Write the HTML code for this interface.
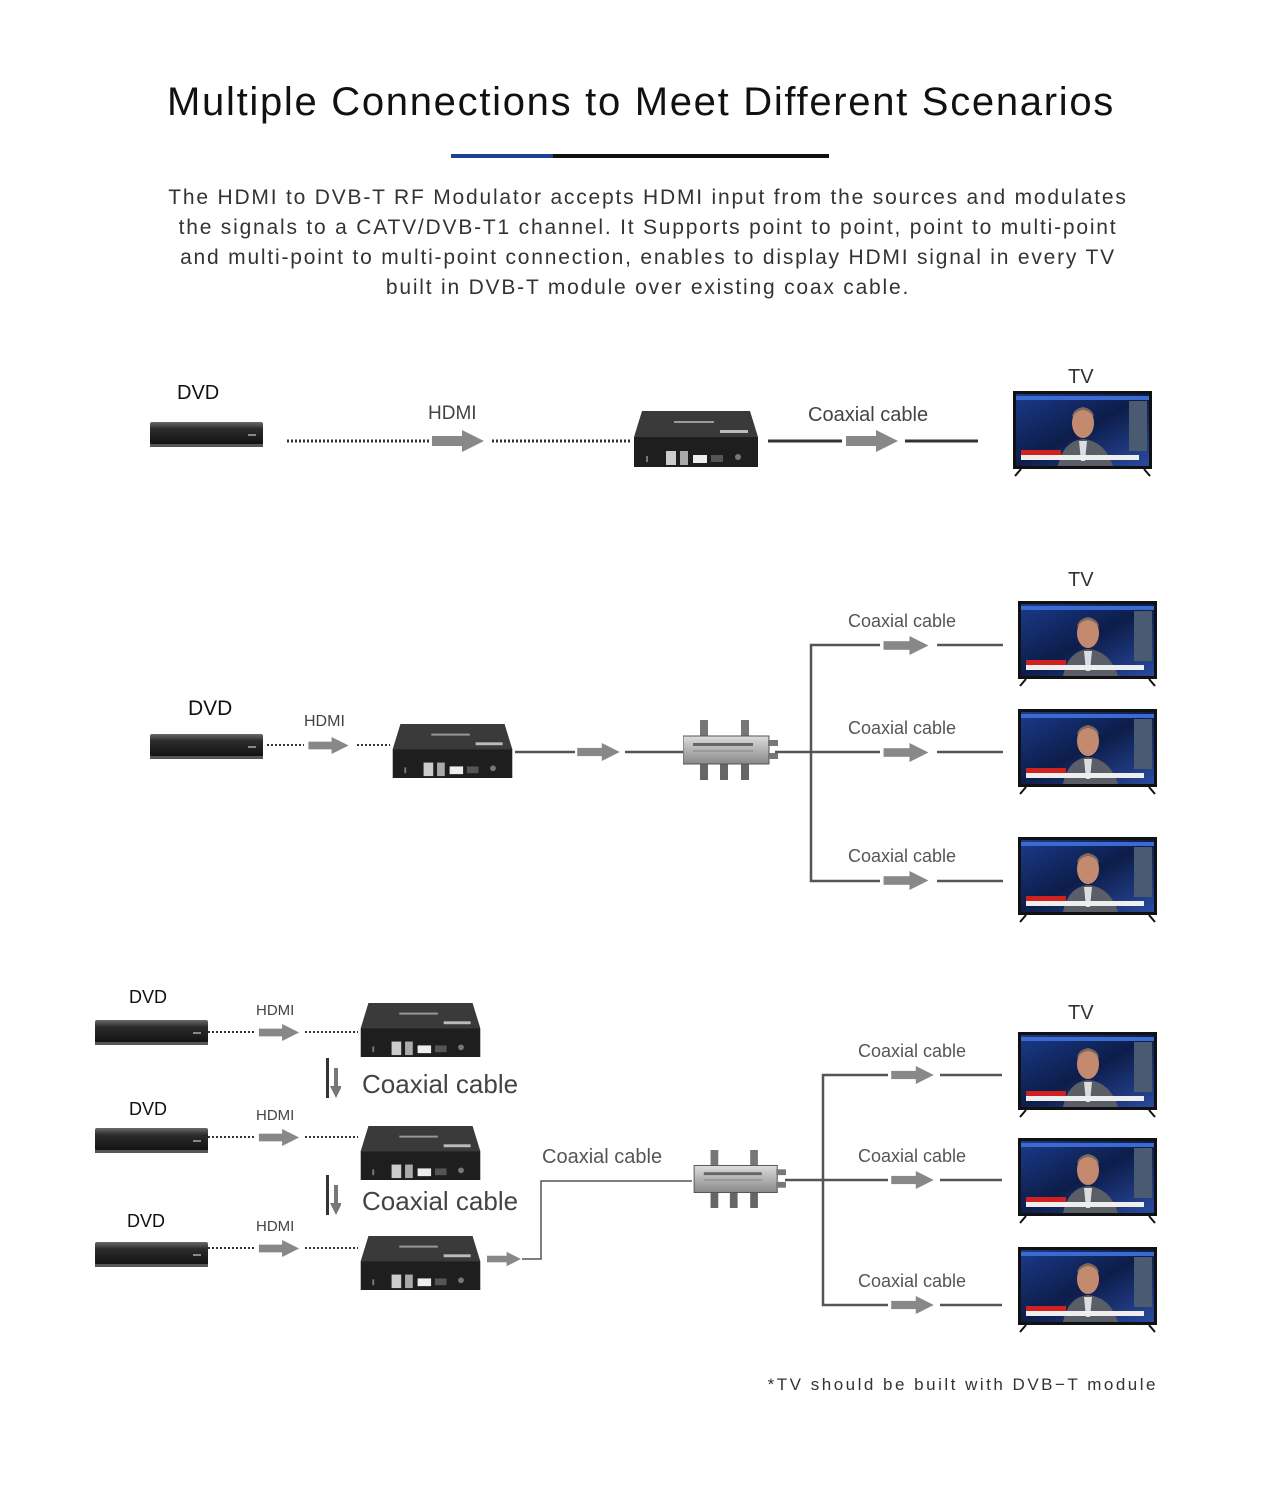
<!DOCTYPE html>
<html><head><meta charset="utf-8"><style>
html,body{margin:0;padding:0;background:#fff;width:1280px;height:1493px;overflow:hidden}
svg{display:block}
text{font-family:"Liberation Sans","DejaVu Sans",sans-serif}
</style></head><body>
<svg width="1280" height="1493" viewBox="0 0 1280 1493" xmlns="http://www.w3.org/2000/svg">
<defs>
<linearGradient id="dg" x1="0" y1="0" x2="0" y2="1"><stop offset="0" stop-color="#6a6a6a"/><stop offset="0.3" stop-color="#2c2c2c"/><stop offset="1" stop-color="#111"/></linearGradient>
<linearGradient id="sg" x1="0" y1="0" x2="1" y2="1"><stop offset="0" stop-color="#1a3a8a"/><stop offset="0.5" stop-color="#0d1d4a"/><stop offset="1" stop-color="#2a4aa0"/></linearGradient>
<linearGradient id="spg" x1="0" y1="0" x2="0" y2="1"><stop offset="0" stop-color="#ddd"/><stop offset="1" stop-color="#888"/></linearGradient>
<symbol id="dvd" viewBox="0 0 113 27"><rect x="0" y="2" width="113" height="23" rx="2" fill="url(#dg)"/><rect x="0" y="24" width="113" height="3" fill="#555"/><rect x="98" y="14" width="8" height="2" fill="#888"/></symbol>
<symbol id="mod" viewBox="0 0 124 56"><polygon points="8,0 116,0 124,26 0,26" fill="#3a3a3a"/><rect x="0" y="26" width="124" height="30" fill="#1e1e1e"/><rect x="40" y="10" width="40" height="2" fill="#999"/><rect x="86" y="19" width="28" height="3" fill="#bbb"/><rect x="32" y="40" width="10" height="14" fill="#ccc"/><rect x="46" y="40" width="8" height="14" fill="#aaa"/><rect x="59" y="44" width="14" height="8" fill="#eee"/><rect x="77" y="44" width="12" height="7" fill="#555"/><circle cx="104" cy="46" r="3" fill="#777"/><rect x="12" y="45" width="2" height="6" fill="#777"/></symbol>
<symbol id="tv" viewBox="0 0 139 86"><rect x="0" y="0" width="139" height="78" fill="#111"/><rect x="3" y="3" width="133" height="72" fill="url(#sg)"/><rect x="3" y="5" width="133" height="4" fill="#3b6ad0"/><rect x="116" y="10" width="18" height="50" fill="#4a5a70"/><path d="M45 75 Q50 50 70 48 Q92 50 100 75Z" fill="#5a5e66"/><polygon points="66,50 74,50 72,70 68,70" fill="#ddd"/><ellipse cx="70" cy="32" rx="11" ry="15" fill="#c48a70"/><path d="M59 26 Q70 12 81 26 Q80 18 70 16 Q60 18 59 26Z" fill="#7a6a5a"/><rect x="8" y="59" width="40" height="5" fill="#d02020"/><rect x="8" y="64" width="118" height="5" fill="#eee"/><line x1="8" y1="78" x2="2" y2="85" stroke="#111" stroke-width="2"/><line x1="131" y1="78" x2="137" y2="85" stroke="#111" stroke-width="2"/></symbol>
<symbol id="sp" viewBox="0 0 97 60"><rect x="17" y="0" width="8" height="18" fill="#777"/><rect x="58" y="0" width="8" height="18" fill="#777"/><rect x="17" y="42" width="8" height="18" fill="#666"/><rect x="37" y="42" width="8" height="18" fill="#666"/><rect x="58" y="42" width="8" height="18" fill="#666"/><rect x="0" y="16" width="86" height="28" fill="url(#spg)" stroke="#555"/><rect x="85" y="20" width="10" height="6" fill="#777"/><rect x="85" y="33" width="10" height="6" fill="#777"/><rect x="10" y="23" width="60" height="3" fill="#666"/><rect x="10" y="30" width="60" height="2" fill="#999"/></symbol>
<symbol id="ar" viewBox="0 0 52 22"><rect x="0" y="6" width="31" height="10" fill="#888"/><polygon points="30,0 52,11 30,22" fill="#888"/></symbol>
<symbol id="ad" viewBox="0 0 14 40"><rect x="0" y="0" width="3" height="40" fill="#333"/><rect x="8" y="10" width="4" height="20" fill="#777"/><polygon points="4,28 16,28 10,40" fill="#777"/></symbol>
</defs>

<text x="641" y="115" text-anchor="middle" font-size="40" fill="#111" letter-spacing="1.7">Multiple Connections to Meet Different Scenarios</text>
<rect x="451" y="154" width="102" height="4" fill="#1d3f9a"/><rect x="553" y="154" width="276" height="4" fill="#111"/>
<g font-size="21" fill="#333" text-anchor="middle" letter-spacing="1.8">
<text x="648" y="204">The HDMI to DVB-T RF Modulator accepts HDMI input from the sources and modulates</text>
<text x="648" y="234">the signals to a CATV/DVB-T1 channel. It Supports point to point, point to multi-point</text>
<text x="648" y="264">and multi-point to multi-point connection, enables to display HDMI signal in every TV</text>
<text x="648" y="294">built in DVB-T module over existing coax cable.</text>
</g>

<!-- Row 1 -->
<text x="177" y="399" font-size="20" fill="#111">DVD</text>
<use href="#dvd" x="150" y="420" width="113" height="27"/>
<g stroke="#333" stroke-width="3" stroke-dasharray="2,2"><line x1="287" y1="441" x2="430" y2="441"/><line x1="492" y1="441" x2="630" y2="441"/></g>
<use href="#ar" x="432" y="430" width="52" height="22"/>
<text x="428" y="419" font-size="19" fill="#444">HDMI</text>
<use href="#mod" x="634" y="411" width="124" height="56"/>
<g stroke="#333" stroke-width="3"><line x1="768" y1="441" x2="842" y2="441"/><line x1="905" y1="441" x2="978" y2="441"/></g>
<use href="#ar" x="846" y="430" width="52" height="22"/>
<text x="808" y="421" font-size="20" fill="#444">Coaxial cable</text>
<text x="1068" y="383" font-size="20" fill="#333">TV</text>
<use href="#tv" x="1013" y="391" width="139" height="86"/>

<!-- Row 2 -->
<text x="188" y="715" font-size="21" fill="#111">DVD</text>
<use href="#dvd" x="150" y="732" width="113" height="27"/>
<g stroke="#333" stroke-width="2" stroke-dasharray="2,2"><line x1="267" y1="745" x2="304" y2="745"/><line x1="357" y1="745" x2="390" y2="745"/></g>
<use href="#ar" x="307" y="737" width="43" height="17"/>
<text x="304" y="726" font-size="16" fill="#444">HDMI</text>
<use href="#mod" x="390" y="724" width="125" height="54"/>
<g stroke="#555" stroke-width="2.5" fill="none"><line x1="515" y1="752" x2="575" y2="752"/><line x1="625" y1="752" x2="685" y2="752"/><line x1="775" y1="752" x2="811" y2="752"/>
<polyline points="880,645 811,645 811,881 880,881"/><line x1="811" y1="752" x2="880" y2="752"/>
<line x1="937" y1="645" x2="1003" y2="645"/><line x1="937" y1="752" x2="1003" y2="752"/><line x1="937" y1="881" x2="1003" y2="881"/></g>
<use href="#ar" x="577" y="743" width="43" height="18"/>
<use href="#sp" x="683" y="720" width="97" height="60"/>
<use href="#ar" x="882" y="636" width="48" height="19"/><use href="#ar" x="882" y="743" width="48" height="19"/><use href="#ar" x="882" y="871" width="48" height="19"/>
<g font-size="18" fill="#555"><text x="848" y="627">Coaxial cable</text><text x="848" y="734">Coaxial cable</text><text x="848" y="862">Coaxial cable</text></g>
<text x="1068" y="586" font-size="20" fill="#333">TV</text>
<use href="#tv" x="1018" y="601" width="139" height="86"/>
<use href="#tv" x="1018" y="709" width="139" height="86"/>
<use href="#tv" x="1018" y="837" width="139" height="86"/>

<!-- Row 3 -->
<g font-size="18" fill="#111"><text x="129" y="1003">DVD</text><text x="129" y="1115">DVD</text><text x="127" y="1227">DVD</text></g>
<use href="#dvd" x="95" y="1018" width="113" height="27"/><use href="#dvd" x="95" y="1126" width="113" height="27"/><use href="#dvd" x="95" y="1240" width="113" height="27"/>
<g stroke="#333" stroke-width="2" stroke-dasharray="2,2"><line x1="208" y1="1032" x2="255" y2="1032"/><line x1="305" y1="1032" x2="358" y2="1032"/><line x1="208" y1="1137" x2="255" y2="1137"/><line x1="305" y1="1137" x2="358" y2="1137"/><line x1="208" y1="1248" x2="255" y2="1248"/><line x1="305" y1="1248" x2="358" y2="1248"/></g>
<use href="#ar" x="258" y="1024" width="42" height="17"/><use href="#ar" x="258" y="1129" width="42" height="17"/><use href="#ar" x="258" y="1240" width="42" height="17"/>
<g font-size="15" fill="#444"><text x="256" y="1015">HDMI</text><text x="256" y="1120">HDMI</text><text x="256" y="1231">HDMI</text></g>
<use href="#mod" x="358" y="1003" width="125" height="54"/><use href="#mod" x="358" y="1126" width="125" height="54"/><use href="#mod" x="358" y="1236" width="125" height="54"/>
<use href="#ad" x="325" y="1058" width="16" height="40"/><use href="#ad" x="325" y="1175" width="16" height="40"/>
<g font-size="26" fill="#444"><text x="362" y="1093">Coaxial cable</text><text x="362" y="1210">Coaxial cable</text></g>
<use href="#ar" x="487" y="1251" width="34" height="16"/>
<g stroke="#555" stroke-width="1.5" fill="none"><polyline points="522,1259 541,1259 541,1181 692,1181"/></g>
<text x="542" y="1163" font-size="20" fill="#555">Coaxial cable</text>
<use href="#sp" x="692" y="1150" width="98" height="58"/>
<g stroke="#555" stroke-width="2.5" fill="none"><line x1="785" y1="1180" x2="888" y2="1180"/><polyline points="888,1075 823,1075 823,1305 888,1305"/>
<line x1="940" y1="1075" x2="1002" y2="1075"/><line x1="940" y1="1180" x2="1002" y2="1180"/><line x1="940" y1="1305" x2="1002" y2="1305"/></g>
<use href="#ar" x="890" y="1066" width="45" height="18"/><use href="#ar" x="890" y="1171" width="45" height="18"/><use href="#ar" x="890" y="1296" width="45" height="18"/>
<g font-size="18" fill="#555"><text x="858" y="1057">Coaxial cable</text><text x="858" y="1162">Coaxial cable</text><text x="858" y="1287">Coaxial cable</text></g>
<text x="1068" y="1019" font-size="20" fill="#333">TV</text>
<use href="#tv" x="1018" y="1032" width="139" height="86"/>
<use href="#tv" x="1018" y="1138" width="139" height="86"/>
<use href="#tv" x="1018" y="1247" width="139" height="86"/>

<text x="1158" y="1390" text-anchor="end" font-size="17" fill="#333" letter-spacing="2.5">*TV should be built with DVB−T module</text>
</svg>
</body></html>
